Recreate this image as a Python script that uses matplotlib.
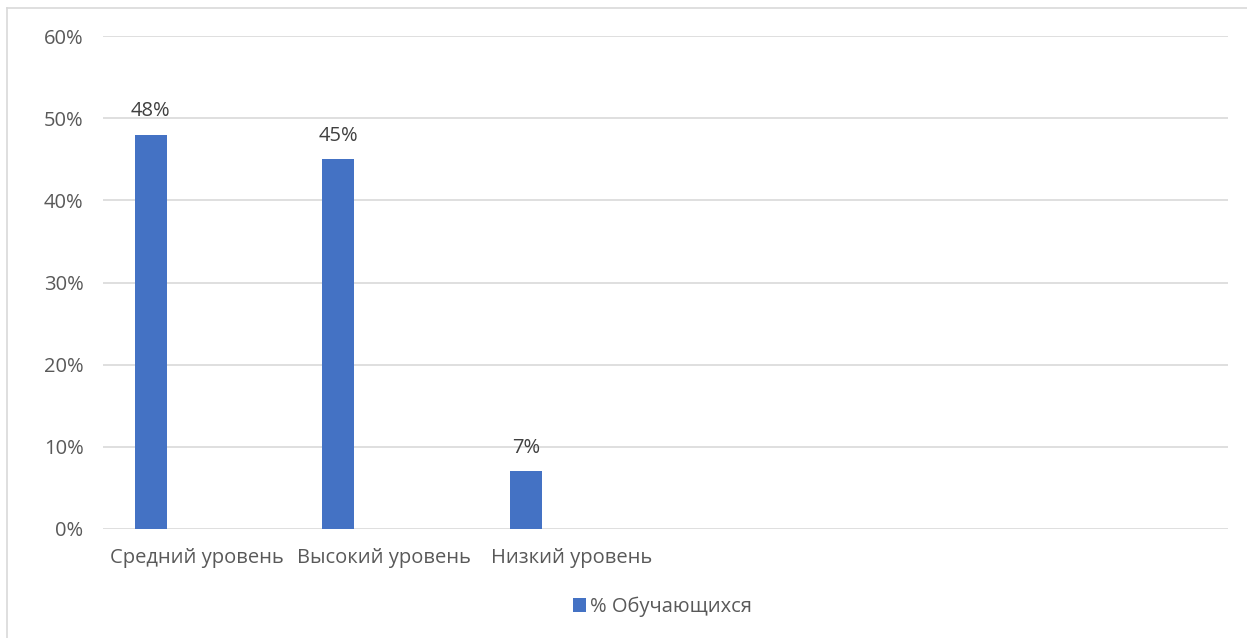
import matplotlib.pyplot as plt
from matplotlib.lines import Line2D

# Data
categories = ['Средний уровень', 'Высокий уровень', 'Низкий уровень', '', '', '']
values = [48, 45, 7]
labels = ['48%', '45%', '7%']
series_name = '% Обучающихся'
yticks = [0, 10, 20, 30, 40, 50, 60]

plt.rcParams['font.family'] = ['Open Sans', 'DejaVu Sans']
text_color = '#595959'

fig = plt.figure(figsize=(12.47, 6.38), dpi=100)
ax = fig.add_axes([103 / 1247, 1 - 529 / 638, 1125 / 1247, 493 / 638])

# chart frame (left and top edges visible)
fx, fy = 7 / 1247, 1 - 8 / 638
fig.add_artist(Line2D([fx, fx], [0, fy], transform=fig.transFigure,
                      color='#D9D9D9', linewidth=1.2))
fig.add_artist(Line2D([fx, 1], [fy, fy], transform=fig.transFigure,
                      color='#D9D9D9', linewidth=1.2))

xs = [i - 0.245 for i in range(len(values))]
bars = ax.bar(xs, values, width=0.17, color='#4472C4', label=series_name, zorder=3)
for x, v, t in zip(xs, values, labels):
    ax.text(x, v + 1.6, t, ha='center', va='bottom', fontsize=14.5, color='#404040')

ax.set_xlim(-0.5, len(categories) - 0.5)
ax.set_ylim(0, 60)
ax.set_yticks(yticks)
ax.set_yticklabels([f'{t}%' for t in yticks], fontsize=14.5, color=text_color)
ax.set_xticks(range(len(categories)))
ax.set_xticklabels(categories, fontsize=14.5, color=text_color)
ax.tick_params(length=0)
ax.tick_params(axis='y', pad=14)
ax.tick_params(axis='x', pad=14)
ax.yaxis.grid(True, color='#D9D9D9', linewidth=1.2, zorder=0)
for s in ax.spines.values():
    s.set_visible(False)

fig.legend(handles=[bars], labels=[series_name], loc='center',
           bbox_to_anchor=(662 / 1247, 1 - 607 / 638), frameon=False,
           fontsize=14.5, labelcolor=text_color, handlelength=0.65,
           handleheight=0.7, handletextpad=0.2)

fig.savefig('out.png', dpi=100)
